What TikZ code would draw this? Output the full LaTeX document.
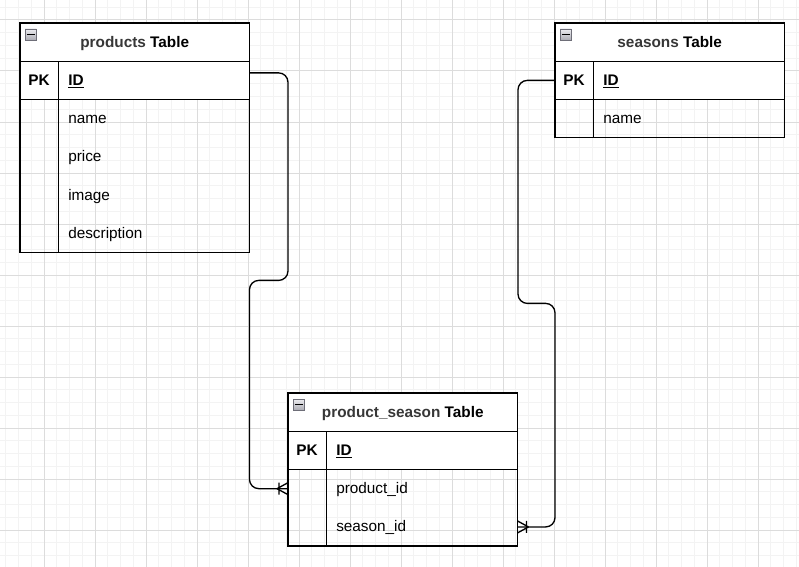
\documentclass[tikz,border=0pt]{standalone}
\usepackage{fontspec}
\setmainfont{Liberation Sans}
\usepackage{tikz}
\usetikzlibrary{positioning, calc}
\definecolor{gridminor}{RGB}{243,243,243}
\definecolor{gridmajor}{RGB}{220,220,220}
\definecolor{tblline}{RGB}{0,0,0}
\definecolor{tblname}{RGB}{55,55,55}
\definecolor{iconlight}{RGB}{236,236,240}
\definecolor{icondark}{RGB}{170,170,178}
\definecolor{iconedge}{RGB}{110,110,120}
\tikzset{
  hdrcell/.style={rectangle, draw=tblline, fill=white, minimum width=172.1pt,
    minimum height=28.7pt, inner sep=0pt, outer sep=0pt,
    text height=9pt, text depth=1.6pt,
    font=\fontsize{11.5}{13}\selectfont\bfseries, line width=1pt},
  keycell/.style={rectangle, draw=tblline, fill=white, minimum width=28.7pt,
    minimum height=28.7pt, inner sep=0pt, outer sep=0pt,
    text height=9pt, text depth=1.6pt,
    font=\fontsize{11.5}{13}\selectfont\bfseries, line width=1pt},
  idcell/.style={rectangle, draw=tblline, fill=white, text width=128.4pt,
    inner xsep=7.5pt, inner ysep=0pt, outer sep=0pt, minimum height=28.7pt,
    text height=9pt, text depth=1.6pt, align=left,
    font=\fontsize{11.5}{13}\selectfont\bfseries, line width=1pt},
  fieldcell/.style={rectangle, text width=128.4pt, inner xsep=7.5pt,
    inner ysep=0pt, outer sep=0pt, minimum height=28.7pt,
    text height=9pt, text depth=1.6pt, align=left,
    font=\fontsize{11.5}{13}\selectfont},
  iconbox/.style={rectangle, draw=iconedge, top color=iconlight, bottom color=icondark,
    minimum size=8.6pt, inner sep=0pt, outer sep=0pt, line width=0.6pt},
  tblframe/.style={draw=tblline, line width=1pt},
  relline/.style={draw=tblline, line width=1pt, rounded corners=7pt},
  minorgrid/.style={draw=gridminor, line width=0.75pt},
  majorgrid/.style={draw=gridmajor, line width=0.75pt},
  crowfoot/.pic={
    \draw[relline] (-11,0) -- (0,-6) (-11,0) -- (0,6) (-9,-6) -- (-9,6);
  }
}

\begin{document}
\begin{tikzpicture}[x=0.75pt, y=-0.75pt]
  \useasboundingbox (0,0) rectangle (799,567);
  \fill[white] (0,0) rectangle (799,567);

  % Grid
  \foreach \i in {0,...,62} {\draw[minorgrid] ({5.75+12.75*\i},0) -- ++(0,567);}
  \foreach \i in {0,...,44} {\draw[minorgrid] (0,{7.25+12.75*\i}) -- ++(799,0);}
  \foreach \i in {0,...,14} {\draw[majorgrid] ({44+51*\i},0) -- ++(0,567);}
  \foreach \i in {0,...,10} {\draw[majorgrid] (0,{20+51*\i}) -- ++(799,0);}

  % products table
  \node[hdrcell, anchor=north west] (prodhdr) at (20,23) {\textcolor{tblname}{products} Table};
  \node[iconbox, anchor=north west] (prodicon) at ($(prodhdr.north west)+(5,6)$) {\rule{5.8pt}{0.9pt}};
  \node[keycell, below right=0pt of prodhdr.south west] (prodpk) {PK};
  \node[idcell, right=0pt of prodpk] (prodid) {\underline{ID}};
  \node[fieldcell, below=0pt of prodid] (prodname) {name};
  \node[fieldcell, below=0pt of prodname] (prodprice) {price};
  \node[fieldcell, below=0pt of prodprice] (prodimage) {image};
  \node[fieldcell, below=0pt of prodimage] (proddesc) {description};
  \draw[tblframe] (prodpk.south west) rectangle (proddesc.south east);
  \draw[tblframe] (prodpk.south east) -- (prodpk.south east |- proddesc.south);

  % seasons table
  \node[hdrcell, anchor=north west] (seahdr) at (555,23) {\textcolor{tblname}{seasons} Table};
  \node[iconbox, anchor=north west] (seaicon) at ($(seahdr.north west)+(5,6)$) {\rule{5.8pt}{0.9pt}};
  \node[keycell, below right=0pt of seahdr.south west] (seapk) {PK};
  \node[idcell, right=0pt of seapk] (seaid) {\underline{ID}};
  \node[fieldcell, below=0pt of seaid] (seaname) {name};
  \draw[tblframe] (seapk.south west) rectangle (seaname.south east);
  \draw[tblframe] (seapk.south east) -- (seapk.south east |- seaname.south);

  % product_season table
  \node[hdrcell, anchor=north west] (pshdr) at (288,393) {\textcolor{tblname}{product\_season} Table};
  \node[iconbox, anchor=north west] (psicon) at ($(pshdr.north west)+(5,6)$) {\rule{5.8pt}{0.9pt}};
  \node[keycell, below right=0pt of pshdr.south west] (pspk) {PK};
  \node[idcell, right=0pt of pspk] (psid) {\underline{ID}};
  \node[fieldcell, below=0pt of psid] (psprod) {product\_id};
  \node[fieldcell, below=0pt of psprod] (pssea) {season\_id};
  \draw[tblframe] (pspk.south west) rectangle (pssea.south east);
  \draw[tblframe] (pspk.south east) -- (pspk.south east |- pssea.south);

  % Relations
  \coordinate (prodout) at ($(prodid.east)+(0,-7.5)$);
  \draw[relline] (prodout) -- (prodout -| pshdr.west) -- ++(0,207.5)
    -| (psprod.west -| prodhdr.east) -- (psprod.west -| pshdr.west);
  \pic at (psprod.west -| pshdr.west) {crowfoot};
  \draw[relline] (seapk.west) -- ++(-37,0) -- ++(0,223)
    -| (pssea.east -| seahdr.west) -- (pssea.east);
  \pic[xscale=-1] at (pssea.east) {crowfoot};
\end{tikzpicture}
\end{document}
